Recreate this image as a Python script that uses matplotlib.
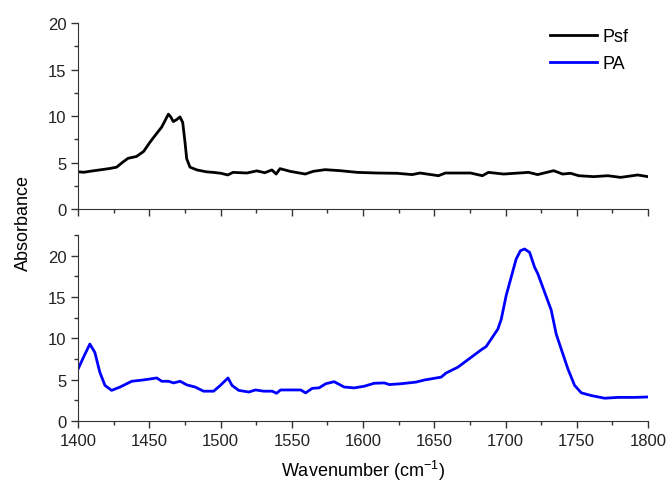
import numpy as np
import matplotlib
matplotlib.use('Agg')
import matplotlib.pyplot as plt
from matplotlib.ticker import MultipleLocator

plt.rcParams['font.family'] = ['Liberation Sans', 'DejaVu Sans']
plt.rcParams['mathtext.default'] = 'regular'

# --- Psf spectrum --- #
wn_psf = [1400, 1404, 1408, 1415, 1422, 1427, 1431, 1435, 1441, 1446, 1450.5,
          1455, 1458.6, 1461, 1463.3, 1465, 1466.8, 1469, 1471.5, 1473.4, 1475,
          1476.2, 1478.5, 1483.4, 1490, 1494.7, 1500, 1505, 1508.7, 1518.4,
          1525.4, 1531, 1536, 1539, 1541.7, 1548.8, 1559.4, 1565, 1573.4, 1584,
          1595.8, 1609.9, 1623.9, 1634.5, 1640, 1652.9, 1657.8, 1675.4, 1683.8,
          1688, 1698.6, 1716.2, 1722.5, 1733.8, 1740.1, 1745.7, 1751.4, 1761.9,
          1771.8, 1780.8, 1792.8, 1800]
abs_psf = [4.0, 3.95, 4.05, 4.2, 4.35, 4.5, 5.0, 5.45, 5.65, 6.2, 7.2,
           8.1, 8.8, 9.5, 10.2, 9.9, 9.4, 9.6, 9.9, 9.3, 7.2,
           5.4, 4.5, 4.2, 4.0, 3.94, 3.85, 3.66, 3.94, 3.87,
           4.1, 3.9, 4.2, 3.76, 4.34, 4.05, 3.76, 4.05, 4.23, 4.12,
           3.94, 3.87, 3.84, 3.7, 3.87, 3.58, 3.87, 3.87, 3.58,
           3.94, 3.76, 3.94, 3.7, 4.12, 3.76, 3.84, 3.58, 3.48,
           3.58, 3.4, 3.66, 3.48]

# --- PA spectrum --- #
wn_pa = [1400, 1404, 1408.2, 1411.7, 1415.2, 1418.8, 1423.5, 1429.4, 1437.6,
         1445.8, 1455.2, 1458.7, 1463.4, 1467, 1471.6, 1476.3, 1482.2, 1488,
         1495.1, 1499.8, 1505.2, 1508, 1512.7, 1519.8, 1524.5, 1530.3, 1536.2,
         1539.3, 1542.1, 1556.2, 1559.7, 1564.4, 1569.1, 1573.8, 1579.7,
         1586.8, 1593.8, 1600.8, 1607.9, 1614.9, 1618.4, 1626.6, 1637.2, 1643,
         1654.8, 1658.3, 1666.5, 1675.9, 1682.9, 1686.4, 1694.6, 1697, 1700.5,
         1704, 1707.5, 1710.5, 1713.4, 1716.9, 1720.4, 1722.7, 1727.4, 1732.1,
         1735.6, 1739.1, 1743.8, 1748.5, 1753.2, 1760.2, 1769.6, 1779, 1790.6,
         1800]
abs_pa = [6.3, 7.8, 9.3, 8.3, 5.9, 4.3, 3.7, 4.1, 4.8,
          4.96, 5.2, 4.8, 4.8, 4.6, 4.8, 4.36, 4.1, 3.6,
          3.6, 4.3, 5.2, 4.3, 3.7, 3.5, 3.75, 3.6, 3.6,
          3.35, 3.75, 3.75, 3.4, 3.95, 4.0, 4.5, 4.75,
          4.1, 4.0, 4.2, 4.56, 4.6, 4.4, 4.5, 4.7, 4.95,
          5.3, 5.8, 6.5, 7.7, 8.6, 9.0, 11.1, 12.3, 15.2,
          17.4, 19.6, 20.6, 20.8, 20.4, 18.6, 17.8, 15.6, 13.4,
          10.5, 8.7, 6.3, 4.3, 3.4, 3.07, 2.75, 2.85, 2.85,
          2.9]

fig = plt.figure(figsize=(6.68, 4.85), dpi=100)
ax1 = fig.add_axes([0.117, 0.567, 0.853, 0.3835])
ax2 = fig.add_axes([0.117, 0.130, 0.853, 0.3835])

l1, = ax1.plot(wn_psf, abs_psf, color='black', lw=2.0)
l2, = ax2.plot(wn_pa, abs_pa, color='#0000ff', lw=2.0)

ax1.set_ylim(0, 20)
ax2.set_ylim(0, 22.5)

for ax in (ax1, ax2):
    ax.set_xlim(1400, 1800)
    ax.spines['top'].set_visible(False)
    ax.spines['right'].set_visible(False)
    ax.xaxis.set_major_locator(MultipleLocator(50))
    ax.xaxis.set_minor_locator(MultipleLocator(25))
    ax.yaxis.set_major_locator(MultipleLocator(5))
    ax.yaxis.set_minor_locator(MultipleLocator(2.5))
    ax.tick_params(which='major', direction='out', length=5, width=1,
                   labelsize=12, colors='#333333', labelcolor='#222222')
    ax.tick_params(which='minor', direction='out', length=3, width=1,
                   colors='#333333')
    for s in ('left', 'bottom'):
        ax.spines[s].set_color('#333333')

ax1.tick_params(axis='x', labelbottom=False)

ax2.set_xlabel('Wavenumber (cm$^{-1}$)', fontsize=13, labelpad=7)
fig.text(0.035, 0.54, 'Absorbance', rotation=90, fontsize=13,
         ha='center', va='center')

ax1.legend([l1, l2], ['Psf', 'PA'], loc='upper right', frameon=False,
           fontsize=13, handlelength=2.6, handletextpad=0.35,
           labelspacing=0.55, bbox_to_anchor=(0.995, 1.06))

plt.savefig('out.png', dpi=100)
